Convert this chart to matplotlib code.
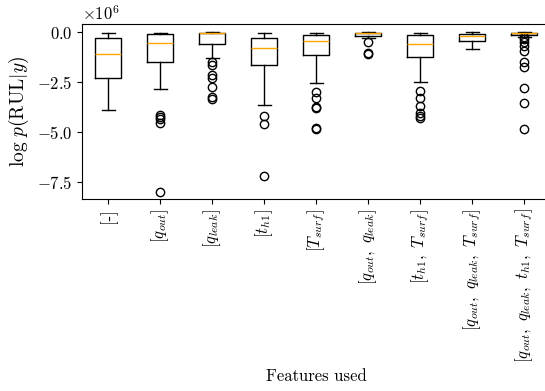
import matplotlib
matplotlib.use("Agg")
from matplotlib import pyplot as plt

plt.rcParams['font.family'] = 'serif'
plt.rcParams['font.serif'] = ['cmr10']
plt.rcParams['mathtext.fontset'] = 'cm'
plt.rcParams['axes.formatter.use_mathtext'] = True
plt.rcParams['font.size'] = 12

# feature sets (x tick labels)
labels = [r'[-]', r'$[q_{out}]$', r'$[q_{leak}]$', r'$[t_{h1}]$', r'$[T_{surf}]$',
          r'$[q_{out},\ q_{leak}]$', r'$[t_{h1},\ T_{surf}]$',
          r'$[q_{out},\ q_{leak},\ T_{surf}]$',
          r'$[q_{out},\ q_{leak},\ t_{h1},\ T_{surf}]$']

# box statistics, units of 1e6
whis_hi = [-0.02, -0.02, 0.0, -0.02, -0.02, 0.0, -0.02, 0.0, 0.0]
q3 = [-0.30, -0.10, -0.01, -0.30, -0.15, -0.02, -0.15, -0.07, -0.01]
med = [-1.10, -0.55, -0.05, -0.77, -0.44, -0.05, -0.57, -0.19, -0.04]
q1 = [-2.28, -1.50, -0.59, -1.65, -1.12, -0.17, -1.25, -0.42, -0.14]
whis_lo = [-3.89, -2.84, -1.27, -3.64, -2.52, -0.30, -2.49, -0.82, -0.22]
fliers = [
    [],
    [-4.15, -4.25, -4.35, -4.55, -7.99],
    [-1.49, -1.65, -2.16, -2.29, -2.76, -3.23, -3.36],
    [-4.20, -4.58, -7.19],
    [-2.98, -3.30, -3.72, -3.78, -4.78, -4.85],
    [-0.49, -1.05, -1.10],
    [-2.94, -3.30, -3.70, -4.06, -4.20, -4.30],
    [],
    [-0.25, -0.35, -0.47, -0.69, -0.92, -1.49, -1.75, -2.78, -3.56, -4.86],
]

scale = 1e6
stats = []
for i in range(len(labels)):
    stats.append({
        'med': med[i] * scale, 'q1': q1[i] * scale, 'q3': q3[i] * scale,
        'whislo': whis_lo[i] * scale, 'whishi': whis_hi[i] * scale,
        'fliers': [f * scale for f in fliers[i]], 'label': labels[i],
    })

fig = plt.figure(figsize=(5.45, 3.91), dpi=100)
ax = fig.add_axes([82 / 545, 1 - 199 / 391, 468 / 545, 175 / 391])
ax.bxp(stats, medianprops={'color': 'orange'})
ax.set_ylim(-8.36e6, 0.42e6)
ax.set_xlim(0.5, 9.5)
ax.set_yticks([-7.5e6, -5e6, -2.5e6, 0])
ax.tick_params(axis='x', labelrotation=90)
ax.set_ylabel(r'$\log\, p(\mathrm{RUL}|y)$', fontsize=14)
ax.set_xlabel('Features used')

fig.savefig('out.png', dpi=100)
